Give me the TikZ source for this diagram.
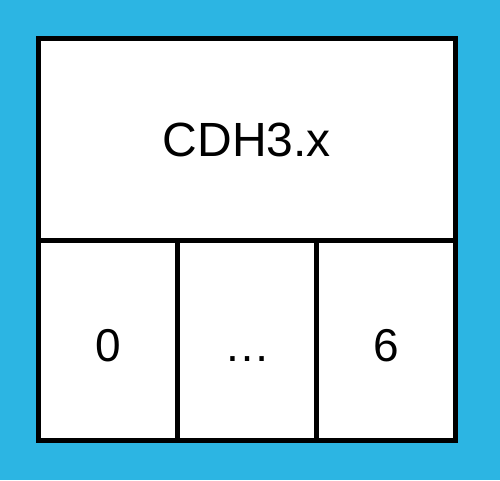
\documentclass[tikz,border=0pt]{standalone}
\usepackage{fontspec}
\setmainfont{Liberation Sans}
\usetikzlibrary{positioning}
\definecolor{skyblue}{RGB}{44,181,227}
\tikzset{
  header/.style={rectangle, minimum width=417pt, minimum height=202pt, outer sep=0pt,
                 draw=black, line width=5pt, fill=white, align=center, font=\fontsize{48}{56}\selectfont},
  slot/.style={rectangle, minimum width=139pt, minimum height=200pt, outer sep=0pt,
               text height=41pt, text depth=0pt,
               draw=black, line width=5pt, fill=white, align=center, font=\fontsize{46}{54}\selectfont}
}
\begin{document}
\begin{tikzpicture}[x=1pt, y=-1pt]
\fill[skyblue] (0,0) rectangle (500,480);
\useasboundingbox (0,0) rectangle (500,480);
\node (cdh) [header, anchor=north west] at (38.5,38.5) {CDH3.x};
\node (first) [slot, below=0pt of cdh.south west, anchor=north west] {0};
\node (dots) [slot, right=0pt of first] {…};
\node (last) [slot, right=0pt of dots] {6};
\end{tikzpicture}
\end{document}
